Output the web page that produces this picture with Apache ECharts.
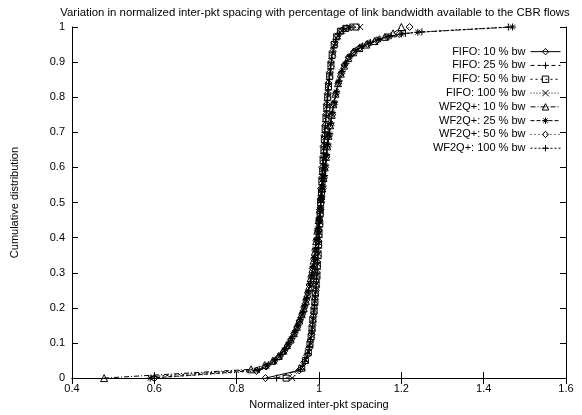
<!DOCTYPE html>
<html>
<head>
<meta charset="utf-8">
<script src="https://cdn.jsdelivr.net/npm/echarts@6/dist/echarts.min.js"></script>
<style>
html,body{margin:0;padding:0;background:#fff;}
#chart{width:582px;height:415px;}
</style>
</head>
<body>
<div id="chart"></div>
<script>
// ---- data ----
const titleText = 'Variation in normalized inter-pkt spacing with percentage of link bandwidth available to the CBR flows';
const xName = 'Normalized inter-pkt spacing';
const yName = 'Cumulative distribution';
const xTicks = [0.4, 0.6, 0.8, 1, 1.2, 1.4, 1.6];
const yTicks = [0, 0.1, 0.2, 0.3, 0.4, 0.5, 0.6, 0.7, 0.8, 0.9, 1];
const seriesNames = ['FIFO: 10 % bw','FIFO: 25 % bw','FIFO: 50 % bw','FIFO: 100 % bw',
  'WF2Q+: 10 % bw','WF2Q+: 25 % bw','WF2Q+: 50 % bw','WF2Q+: 100 % bw'];

const fifo10 = [[0.870,0],[0.952,0.022],[0.964,0.045],[0.971,0.065],[0.976,0.085],[0.979,0.105],[0.982,0.125],[0.984,0.15],[0.986,0.175],[0.988,0.20],[0.990,0.225],[0.992,0.25],[0.993,0.275],[0.995,0.30],[0.996,0.33],[0.997,0.36],[0.999,0.39],[1.000,0.42],[1.001,0.45],[1.003,0.48],[1.004,0.51],[1.005,0.54],[1.007,0.57],[1.008,0.60],[1.010,0.63],[1.011,0.66],[1.013,0.69],[1.015,0.72],[1.017,0.75],[1.019,0.78],[1.021,0.81],[1.023,0.84],[1.026,0.87],[1.029,0.90],[1.033,0.93],[1.038,0.955],[1.045,0.975],[1.055,0.99],[1.068,0.997],[1.080,1.0]];
const fifo25 = [[0.897,0],[0.955,0.025],[0.966,0.048],[0.973,0.07],[0.977,0.09],[0.980,0.11],[0.983,0.135],[0.985,0.16],[0.987,0.185],[0.989,0.21],[0.991,0.235],[0.993,0.26],[0.994,0.285],[0.996,0.31],[0.997,0.34],[0.999,0.37],[1.000,0.40],[1.001,0.43],[1.003,0.46],[1.004,0.49],[1.005,0.52],[1.007,0.55],[1.008,0.58],[1.010,0.61],[1.011,0.64],[1.013,0.67],[1.014,0.70],[1.016,0.73],[1.018,0.76],[1.020,0.79],[1.022,0.82],[1.025,0.85],[1.028,0.88],[1.031,0.91],[1.035,0.94],[1.041,0.965],[1.049,0.982],[1.060,0.994],[1.075,1.0]];
const fifo50 = [[0.920,0],[0.958,0.028],[0.967,0.05],[0.974,0.072],[0.978,0.095],[0.981,0.118],[0.983,0.14],[0.985,0.165],[0.988,0.19],[0.990,0.215],[0.991,0.24],[0.993,0.265],[0.995,0.29],[0.996,0.32],[0.998,0.35],[0.999,0.38],[1.000,0.41],[1.002,0.44],[1.003,0.47],[1.004,0.50],[1.006,0.53],[1.007,0.56],[1.009,0.59],[1.010,0.62],[1.012,0.65],[1.013,0.68],[1.015,0.71],[1.017,0.74],[1.019,0.77],[1.021,0.80],[1.023,0.83],[1.026,0.86],[1.029,0.89],[1.032,0.92],[1.037,0.95],[1.043,0.972],[1.052,0.988],[1.065,0.996],[1.090,1.0]];
const fifo100 = [[0.935,0],[0.960,0.03],[0.968,0.052],[0.975,0.075],[0.979,0.10],[0.982,0.122],[0.984,0.145],[0.986,0.17],[0.988,0.195],[0.990,0.22],[0.992,0.245],[0.994,0.27],[0.995,0.295],[0.997,0.325],[0.998,0.355],[1.000,0.385],[1.001,0.415],[1.002,0.445],[1.004,0.475],[1.005,0.505],[1.006,0.535],[1.008,0.565],[1.009,0.595],[1.011,0.625],[1.012,0.655],[1.014,0.685],[1.016,0.715],[1.018,0.745],[1.020,0.775],[1.022,0.805],[1.024,0.835],[1.027,0.865],[1.030,0.895],[1.034,0.925],[1.039,0.952],[1.046,0.974],[1.056,0.989],[1.072,0.997],[1.100,1.0]];
const wf10 = [[0.478,0],[0.835,0.025],[0.868,0.037],[0.888,0.05],[0.902,0.063],[0.913,0.078],[0.922,0.094],[0.931,0.11],[0.939,0.128],[0.946,0.146],[0.952,0.164],[0.958,0.182],[0.963,0.20],[0.968,0.22],[0.972,0.24],[0.976,0.26],[0.980,0.285],[0.984,0.31],[0.987,0.335],[0.990,0.36],[0.993,0.39],[0.996,0.42],[0.999,0.45],[1.002,0.48],[1.005,0.51],[1.008,0.54],[1.011,0.57],[1.014,0.60],[1.017,0.63],[1.020,0.66],[1.023,0.69],[1.027,0.72],[1.031,0.75],[1.035,0.78],[1.040,0.81],[1.046,0.84],[1.053,0.867],[1.061,0.89],[1.071,0.912],[1.083,0.928],[1.098,0.94],[1.115,0.95],[1.135,0.96],[1.160,0.972],[1.180,0.982],[1.200,1.0]];
const wf25 = [[0.590,0],[0.850,0.022],[0.874,0.035],[0.892,0.049],[0.905,0.063],[0.916,0.078],[0.925,0.095],[0.933,0.112],[0.941,0.13],[0.948,0.148],[0.954,0.166],[0.960,0.185],[0.965,0.205],[0.969,0.225],[0.974,0.245],[0.978,0.268],[0.982,0.292],[0.985,0.316],[0.988,0.342],[0.991,0.368],[0.994,0.395],[0.997,0.425],[1.000,0.455],[1.003,0.485],[1.006,0.515],[1.009,0.545],[1.012,0.575],[1.015,0.605],[1.018,0.635],[1.021,0.665],[1.025,0.695],[1.028,0.725],[1.032,0.755],[1.037,0.785],[1.042,0.815],[1.048,0.845],[1.055,0.872],[1.064,0.895],[1.075,0.916],[1.088,0.932],[1.104,0.944],[1.122,0.954],[1.145,0.964],[1.170,0.973],[1.200,0.98],[1.240,0.985],[1.470,1.0]];
const wf50 = [[0.600,0],[0.848,0.02],[0.871,0.033],[0.890,0.047],[0.904,0.061],[0.915,0.076],[0.924,0.092],[0.932,0.109],[0.940,0.127],[0.947,0.145],[0.953,0.163],[0.959,0.182],[0.964,0.202],[0.969,0.222],[0.973,0.243],[0.977,0.265],[0.981,0.288],[0.985,0.312],[0.988,0.338],[0.991,0.364],[0.994,0.392],[0.997,0.42],[1.000,0.45],[1.003,0.48],[1.006,0.51],[1.009,0.54],[1.012,0.57],[1.015,0.60],[1.018,0.63],[1.021,0.66],[1.024,0.69],[1.028,0.72],[1.032,0.75],[1.036,0.78],[1.041,0.81],[1.047,0.84],[1.054,0.868],[1.062,0.892],[1.072,0.914],[1.085,0.93],[1.100,0.942],[1.118,0.952],[1.140,0.962],[1.165,0.972],[1.195,0.98],[1.220,1.0]];
const wf100 = [[0.600,0.005],[0.855,0.025],[0.877,0.038],[0.894,0.052],[0.907,0.066],[0.918,0.081],[0.927,0.097],[0.935,0.114],[0.942,0.132],[0.949,0.15],[0.955,0.168],[0.961,0.187],[0.966,0.207],[0.970,0.227],[0.975,0.248],[0.979,0.27],[0.983,0.294],[0.986,0.318],[0.989,0.344],[0.992,0.37],[0.995,0.398],[0.998,0.427],[1.001,0.457],[1.004,0.487],[1.007,0.517],[1.010,0.547],[1.013,0.577],[1.016,0.607],[1.019,0.637],[1.022,0.667],[1.026,0.697],[1.029,0.727],[1.033,0.757],[1.038,0.787],[1.043,0.817],[1.049,0.847],[1.057,0.874],[1.066,0.897],[1.077,0.918],[1.090,0.934],[1.106,0.946],[1.125,0.956],[1.148,0.966],[1.175,0.975],[1.210,0.982],[1.250,0.986],[1.460,1.0]];

const seriesData = [fifo10, fifo25, fifo50, fifo100, wf10, wf25, wf50, wf100];

// ---- styling ----
const FONT = '"Liberation Sans", Arial, Helvetica, sans-serif';
const DIAMOND = 'path://M5,0L10,5L5,10L0,5Z';
const BOX = 'path://M0,0L10,0L10,10L0,10Z';
const TRI = 'path://M5,0L10,9L0,9Z';
const PLUS = 'path://M0,5L10,5M5,0L5,10';
const CROSS = 'path://M0,0L10,10M10,0L0,10';
const STAR = 'path://M0,5L10,5M5,0L5,10M1.5,1.5L8.5,8.5M8.5,1.5L1.5,8.5';
const symbols = [DIAMOND, PLUS, BOX, CROSS, TRI, STAR, DIAMOND, PLUS];
const symSizes = [7, 7, 6, 6, 7, 7, 7, 7];
const dashes = ['solid', [4,3], [2,3], [1,2], [5,2,1,2], [4,2], [1,3], [2,2]];

const chart = echarts.init(document.getElementById('chart'), null, {renderer: 'canvas'});

const xMin = xTicks[0], xMax = xTicks[xTicks.length - 1];
const yMin = yTicks[0], yMax = yTicks[yTicks.length - 1];

function axisCommon(showLabels) {
  return {
    axisLine: {show: true, lineStyle: {color: '#000', width: 1}},
    axisTick: {show: true, inside: true, length: 6, lineStyle: {color: '#000'}},
    splitLine: {show: false},
    axisLabel: {show: showLabels, color: '#000', fontSize: 11, fontFamily: FONT}
  };
}

const option = {
  backgroundColor: '#fff',
  animation: false,
  title: {
    text: titleText,
    left: 310, top: 2, textAlign: 'center',
    textStyle: {fontSize: 11.4, fontWeight: 'normal', color: '#000', fontFamily: FONT}
  },
  grid: {left: 72, right: 16, top: 27, bottom: 31},
  legend: {
    orient: 'vertical', align: 'right',
    right: 16, top: 40,
    itemWidth: 30, itemHeight: 8, itemGap: 0.5,
    data: seriesNames,
    lineStyle: {width: 1},
    itemStyle: {borderWidth: 1},
    textStyle: {fontSize: 11, color: '#000', fontFamily: FONT, lineHeight: 13.3}
  },
  xAxis: [
    Object.assign({type: 'value', position: 'bottom', min: xMin, max: xMax, interval: 0.2,
      name: xName, nameLocation: 'middle', nameGap: 15,
      nameTextStyle: {fontSize: 11, color: '#000', fontFamily: FONT}}, axisCommon(true),
      {axisLabel: {show: true, color: '#000', fontSize: 11, fontFamily: FONT, margin: 5,
        formatter: v => String(+v.toFixed(1))}}),
    Object.assign({type: 'value', position: 'top', min: xMin, max: xMax, interval: 0.2}, axisCommon(false))
  ],
  yAxis: [
    Object.assign({type: 'value', position: 'left', min: yMin, max: yMax, interval: 0.1,
      name: yName, nameLocation: 'middle', nameGap: 52,
      nameTextStyle: {fontSize: 11, color: '#000', fontFamily: FONT}}, axisCommon(true),
      {axisLabel: {show: true, color: '#000', fontSize: 11, fontFamily: FONT, margin: 7,
        formatter: v => String(+v.toFixed(1))}}),
    Object.assign({type: 'value', position: 'right', min: yMin, max: yMax, interval: 0.1}, axisCommon(false))
  ],
  series: seriesNames.map((name, i) => ({
    name: name,
    type: 'line',
    xAxisIndex: 0, yAxisIndex: 0,
    data: seriesData[i],
    symbol: symbols[i],
    symbolSize: symSizes[i],
    showAllSymbol: true,
    itemStyle: {color: 'transparent', borderColor: '#000', borderWidth: 1},
    lineStyle: {color: '#000', width: 1, type: dashes[i]},
    emphasis: {disabled: true}
  }))
};

chart.setOption(option);
</script>
</body>
</html>
